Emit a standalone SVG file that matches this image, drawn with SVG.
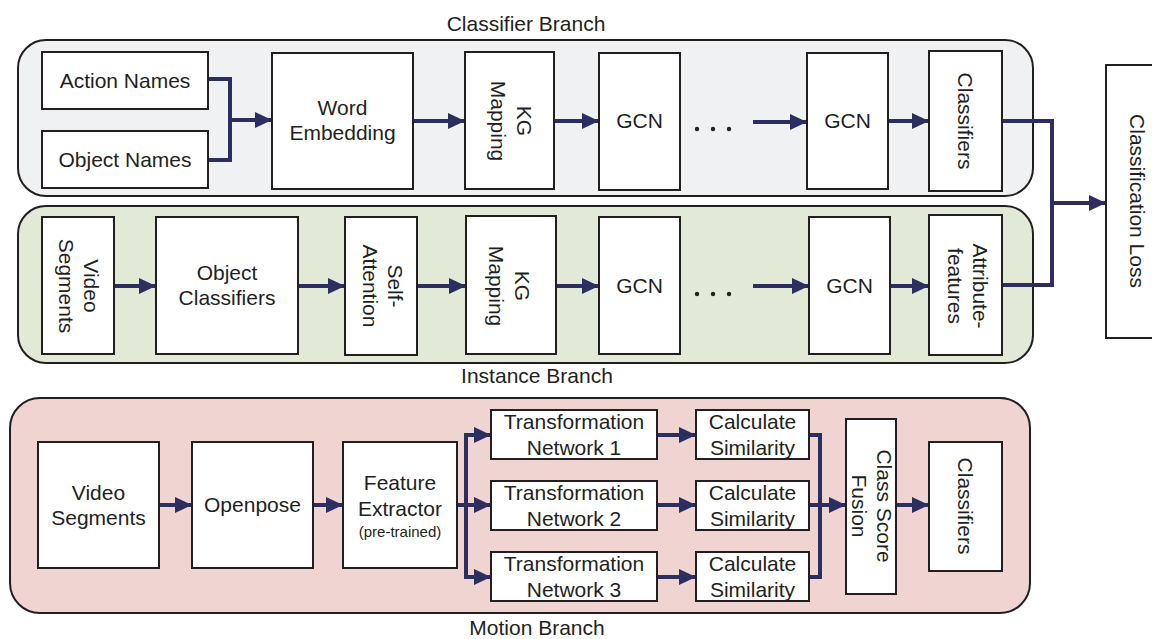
<svg xmlns="http://www.w3.org/2000/svg" width="1152" height="639" viewBox="0 0 1152 639">
<defs>
<style>
.cont{stroke:#231f20;stroke-width:2}
.box{fill:#fff;stroke:#231f20;stroke-width:2}
text{font-family:"Liberation Sans",Arial,sans-serif;font-size:21px;fill:#231f20;text-anchor:middle}
.lbl{font-size:21px}
.small{font-size:15px}
.con{fill:none;stroke:#2b2e5e;stroke-width:4}
.arr{fill:none;stroke:#2b2e5e;stroke-width:4;marker-end:url(#ah)}
.dot{fill:#231f20}
</style>
<marker id="ah" markerUnits="userSpaceOnUse" markerWidth="18" markerHeight="18" refX="17" refY="8" orient="auto">
<path d="M0,0 L17,8 L0,16 z" fill="#2b2e5e"/>
</marker>
</defs>

<g id="containers">
<rect class="cont" x="18" y="40" width="1015" height="156" rx="28" fill="#f0f1f3"/>
<rect class="cont" x="18" y="206" width="1015" height="157" rx="28" fill="#e3e9d7"/>
<rect class="cont" x="10" y="398" width="1020" height="215" rx="30" fill="#f0d4d2"/>
<text class="lbl" x="526" y="31">Classifier Branch</text>
<text class="lbl" x="537" y="383">Instance Branch</text>
<text class="lbl" x="537" y="635">Motion Branch</text>
</g>

<g id="connectors">
<polyline class="con" points="208,79 230,79 230,160 208,160"/>
<line class="arr" x1="230" y1="120" x2="272" y2="120"/>
<line class="arr" x1="413" y1="121" x2="465" y2="121"/>
<line class="arr" x1="554" y1="121" x2="599" y2="121"/>
<line class="arr" x1="753" y1="122" x2="807" y2="122"/>
<line class="arr" x1="888" y1="121" x2="929" y2="121"/>
<polyline class="con" points="1002,121 1052,121 1052,285 1002,285"/>
<line class="arr" x1="1052" y1="203" x2="1106" y2="203"/>

<line class="arr" x1="114" y1="286" x2="156" y2="286"/>
<line class="arr" x1="298" y1="286" x2="345" y2="286"/>
<line class="arr" x1="417" y1="286" x2="466" y2="286"/>
<line class="arr" x1="556" y1="286" x2="599" y2="286"/>
<line class="arr" x1="753" y1="286" x2="809" y2="286"/>
<line class="arr" x1="890" y1="286" x2="929" y2="286"/>

<line class="arr" x1="159" y1="505" x2="192" y2="505"/>
<line class="arr" x1="313" y1="505" x2="343" y2="505"/>
<line class="con" x1="457" y1="505" x2="466" y2="505"/>
<line class="con" x1="466" y1="433" x2="466" y2="579"/>
<line class="arr" x1="464" y1="435" x2="491" y2="435"/>
<line class="arr" x1="466" y1="505" x2="491" y2="505"/>
<line class="arr" x1="464" y1="577" x2="491" y2="577"/>
<line class="arr" x1="657" y1="435" x2="696" y2="435"/>
<line class="arr" x1="657" y1="505" x2="696" y2="505"/>
<line class="arr" x1="657" y1="577" x2="696" y2="577"/>
<polyline class="con" points="809,435 820,435 820,577 809,577"/>
<line class="arr" x1="809" y1="505" x2="846" y2="505"/>
<line class="arr" x1="896" y1="505" x2="929" y2="505"/>
</g>

<g id="dots">
<circle class="dot" cx="697" cy="129" r="2.2"/>
<circle class="dot" cx="713" cy="129" r="2.2"/>
<circle class="dot" cx="729" cy="129" r="2.2"/>
<circle class="dot" cx="697" cy="294" r="2.2"/>
<circle class="dot" cx="713" cy="294" r="2.2"/>
<circle class="dot" cx="729" cy="294" r="2.2"/>
</g>

<g id="action-names"><rect class="box" x="42" y="52" width="166" height="57"/><text x="125" y="88">Action Names</text></g>
<g id="object-names"><rect class="box" x="42" y="131" width="166" height="57"/><text x="125" y="167">Object Names</text></g>
<g id="word-embedding"><rect class="box" x="272" y="53" width="141" height="136"/><text x="342.5" y="115">Word</text><text x="342.5" y="140">Embedding</text></g>
<g id="kg-mapping-1"><rect class="box" x="465" y="52" width="89" height="137"/><g transform="translate(512,121) rotate(90)"><text x="0" y="-5">KG</text><text x="0" y="21">Mapping</text></g></g>
<g id="gcn-1a"><rect class="box" x="599" y="53" width="81" height="137"/><text x="639.5" y="128">GCN</text></g>
<g id="gcn-1b"><rect class="box" x="807" y="53" width="81" height="136"/><text x="847.5" y="128">GCN</text></g>
<g id="classifiers-1"><rect class="box" x="929" y="51" width="73" height="140"/><g transform="translate(965.5,121) rotate(90)"><text x="0" y="7.5">Classifiers</text></g></g>

<g id="classification-loss"><rect class="box" x="1106" y="65" width="64" height="273"/><g transform="translate(1137,201) rotate(90)"><text x="0" y="7.5">Classification Loss</text></g></g>

<g id="video-segments-1"><rect class="box" x="42" y="217" width="72" height="137"/><g transform="translate(79,286) rotate(90)"><text x="0" y="-5">Video</text><text x="0" y="20">Segments</text></g></g>
<g id="object-classifiers"><rect class="box" x="156" y="217" width="142" height="137"/><text x="227" y="280">Object</text><text x="227" y="305">Classifiers</text></g>
<g id="self-attention"><rect class="box" x="345" y="217" width="72" height="138"/><g transform="translate(383,286) rotate(90)"><text x="0" y="-5">Self-</text><text x="0" y="20">Attention</text></g></g>
<g id="kg-mapping-2"><rect class="box" x="466" y="216" width="90" height="138"/><g transform="translate(510,286) rotate(90)"><text x="0" y="-5">KG</text><text x="0" y="21">Mapping</text></g></g>
<g id="gcn-2a"><rect class="box" x="599" y="217" width="81" height="137"/><text x="639.5" y="293">GCN</text></g>
<g id="gcn-2b"><rect class="box" x="809" y="217" width="81" height="137"/><text x="849.5" y="293">GCN</text></g>
<g id="attribute-features"><rect class="box" x="929" y="215" width="73" height="140"/><g transform="translate(968,286) rotate(90)"><text x="0" y="-5">Attribute-</text><text x="0" y="20">features</text></g></g>

<g id="video-segments-2"><rect class="box" x="38" y="442" width="121" height="126"/><text x="98.5" y="500">Video</text><text x="98.5" y="525">Segments</text></g>
<g id="openpose"><rect class="box" x="192" y="442" width="121" height="126"/><text x="252.5" y="512">Openpose</text></g>
<g id="feature-extractor"><rect class="box" x="343" y="442" width="114" height="126"/><text x="400" y="490">Feature</text><text x="400" y="516">Extractor</text><text class="small" x="400" y="537">(pre-trained)</text></g>
<g id="tn1"><rect class="box" x="491" y="410" width="166" height="49"/><text x="574" y="429">Transformation</text><text x="574" y="455">Network 1</text></g>
<g id="tn2"><rect class="box" x="491" y="481" width="166" height="49"/><text x="574" y="500">Transformation</text><text x="574" y="526">Network 2</text></g>
<g id="tn3"><rect class="box" x="491" y="552" width="166" height="49"/><text x="574" y="571">Transformation</text><text x="574" y="597">Network 3</text></g>
<g id="cs1"><rect class="box" x="696" y="410" width="113" height="49"/><text x="752.5" y="429">Calculate</text><text x="752.5" y="455">Similarity</text></g>
<g id="cs2"><rect class="box" x="696" y="481" width="113" height="49"/><text x="752.5" y="500">Calculate</text><text x="752.5" y="526">Similarity</text></g>
<g id="cs3"><rect class="box" x="696" y="552" width="113" height="49"/><text x="752.5" y="571">Calculate</text><text x="752.5" y="597">Similarity</text></g>
<g id="class-score-fusion"><rect class="box" x="846" y="419" width="50" height="175"/><g transform="translate(871.5,506) rotate(90)"><text x="0" y="-5">Class Score</text><text x="0" y="20">Fusion</text></g></g>
<g id="classifiers-2"><rect class="box" x="929" y="442" width="73" height="129"/><g transform="translate(965.5,506) rotate(90)"><text x="0" y="7.5">Classifiers</text></g></g>
</svg>
